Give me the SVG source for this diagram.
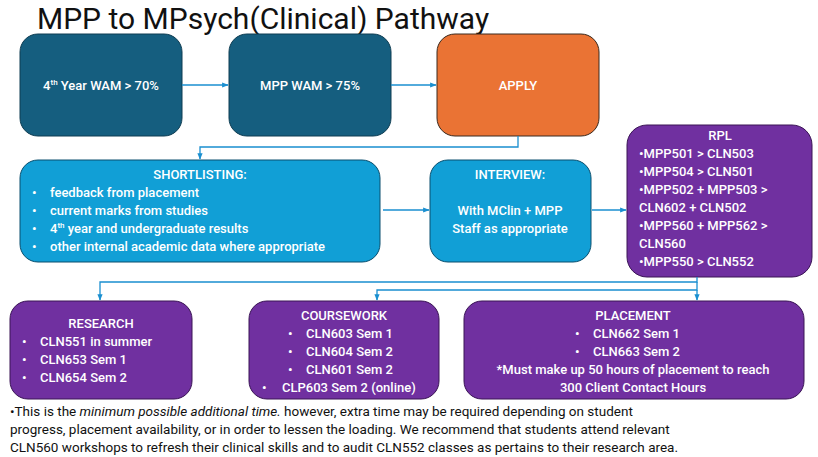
<svg xmlns="http://www.w3.org/2000/svg" width="818" height="457" viewBox="0 0 818 457">
<defs>
<marker id="ah" viewBox="0 0 10 10" refX="9" refY="5" markerWidth="5" markerHeight="5" orient="auto"><path d="M0,1 L10,5 L0,9 z" fill="#1a8fd0"/></marker>
<style>
text{font-family:Roboto,"Liberation Sans",sans-serif}
.w{fill:#fff;font-size:13px;font-weight:500}
.c{stroke:#1a8fd0;stroke-width:1.3;fill:none;marker-end:url(#ah)}
.c2{stroke:#1a8fd0;stroke-width:1.3;fill:none}
.dark{fill:#155e7f;stroke:#0f3d52}
.blue{fill:#119fd6;stroke:#0b4f6e}
.purp{fill:#7030a0;stroke:#3a1455}
.or{fill:#ea7334;stroke:#3a2a1e}
.f{font-size:13.5px;fill:#111}
</style>
</defs>
<rect width="818" height="457" fill="#fff"/>
<text x="37" y="29" font-size="30" fill="#111">MPP to MPsych(Clinical) Pathway</text>
<g id="n1"><rect class="dark" x="20" y="34" width="162" height="102" rx="18"/><text class="w" x="101" y="90" text-anchor="middle">4<tspan font-size="8" dy="-5">th</tspan><tspan dy="5"> Year WAM &gt; 70%</tspan></text></g>
<g id="n2"><rect class="dark" x="229" y="34" width="162" height="102" rx="18"/><text class="w" x="310" y="90" text-anchor="middle">MPP WAM &gt; 75%</text></g>
<g id="n3"><rect class="or" x="437" y="34" width="162" height="102" rx="18"/><text class="w" x="518" y="90" text-anchor="middle">APPLY</text></g>
<g id="n4"><rect class="blue" x="20" y="160" width="360" height="102" rx="18"/>
<text class="w" x="200" y="179" text-anchor="middle">SHORTLISTING:</text>
<text class="w" x="32" y="197">•<tspan x="50">feedback from placement</tspan></text>
<text class="w" x="32" y="215">•<tspan x="50">current marks from studies</tspan></text>
<text class="w" x="32" y="233">•<tspan x="50">4<tspan font-size="8" dy="-5">th</tspan><tspan dy="5"> year and undergraduate results</tspan></tspan></text>
<text class="w" x="32" y="251">•<tspan x="50">other internal academic data where appropriate</tspan></text></g>
<g id="n5"><rect class="blue" x="430" y="160" width="161" height="102" rx="18"/>
<text class="w" x="510" y="179" text-anchor="middle">INTERVIEW:</text>
<text class="w" x="510" y="215" text-anchor="middle">With MClin + MPP</text>
<text class="w" x="510" y="233" text-anchor="middle">Staff as appropriate</text></g>
<g id="n6"><rect class="purp" x="627" y="125" width="185" height="152" rx="20"/>
<text class="w" x="720" y="140" text-anchor="middle">RPL</text>
<text class="w" x="639" y="158">•MPP501 &gt; CLN503</text>
<text class="w" x="639" y="176">•MPP504 &gt; CLN501</text>
<text class="w" x="639" y="194">•MPP502 + MPP503 &gt;</text>
<text class="w" x="639" y="212">CLN602 + CLN502</text>
<text class="w" x="639" y="230">•MPP560 + MPP562 &gt;</text>
<text class="w" x="639" y="248">CLN560</text>
<text class="w" x="639" y="266">•MPP550 &gt; CLN552</text></g>
<g id="n7"><rect class="purp" x="10" y="301" width="182" height="98" rx="18"/>
<text class="w" x="101" y="328" text-anchor="middle">RESEARCH</text>
<text class="w" x="22" y="346">•<tspan x="40">CLN551 in summer</tspan></text>
<text class="w" x="22" y="364">•<tspan x="40">CLN653 Sem 1</tspan></text>
<text class="w" x="22" y="382">•<tspan x="40">CLN654 Sem 2</tspan></text></g>
<g id="n8"><rect class="purp" x="249" y="301" width="190" height="98" rx="18"/>
<text class="w" x="344" y="320" text-anchor="middle">COURSEWORK</text>
<text class="w" x="288" y="338">•<tspan x="306">CLN603 Sem 1</tspan></text>
<text class="w" x="288" y="356">•<tspan x="306">CLN604 Sem 2</tspan></text>
<text class="w" x="288" y="374">•<tspan x="306">CLN601 Sem 2</tspan></text>
<text class="w" x="262" y="392">•<tspan x="282">CLP603 Sem 2 (online)</tspan></text></g>
<g id="n9"><rect class="purp" x="464" y="301" width="340" height="98" rx="18"/>
<text class="w" x="633" y="320" text-anchor="middle">PLACEMENT</text>
<text class="w" x="575" y="338">•<tspan x="593">CLN662 Sem 1</tspan></text>
<text class="w" x="575" y="356">•<tspan x="593">CLN663 Sem 2</tspan></text>
<text class="w" x="633" y="374" text-anchor="middle">*Must make up 50 hours of placement to reach</text>
<text class="w" x="633" y="392" text-anchor="middle">300 Client Contact Hours</text></g>
<g id="connectors">
<path class="c" d="M182,85 H228"/>
<path class="c" d="M391,85 H436"/>
<path class="c" d="M518,136 V147 H200 V159"/>
<path class="c" d="M383,210 H429"/>
<path class="c" d="M592,210 H626"/>
<path class="c" d="M697,277 V282 H100 V300"/>
<path class="c" d="M697,282 V290 H377 V300"/>
<path class="c" d="M697,290 V300"/>
</g>
<text class="f" x="10" y="416">•This is the <tspan font-style="italic">minimum possible additional time.</tspan> however, extra time may be required depending on student</text>
<text class="f" x="10" y="434">progress, placement availability, or in order to lessen the loading. We recommend that students attend relevant</text>
<text class="f" x="10" y="452">CLN560 workshops to refresh their clinical skills and to audit CLN552 classes as pertains to their research area.</text>
</svg>
